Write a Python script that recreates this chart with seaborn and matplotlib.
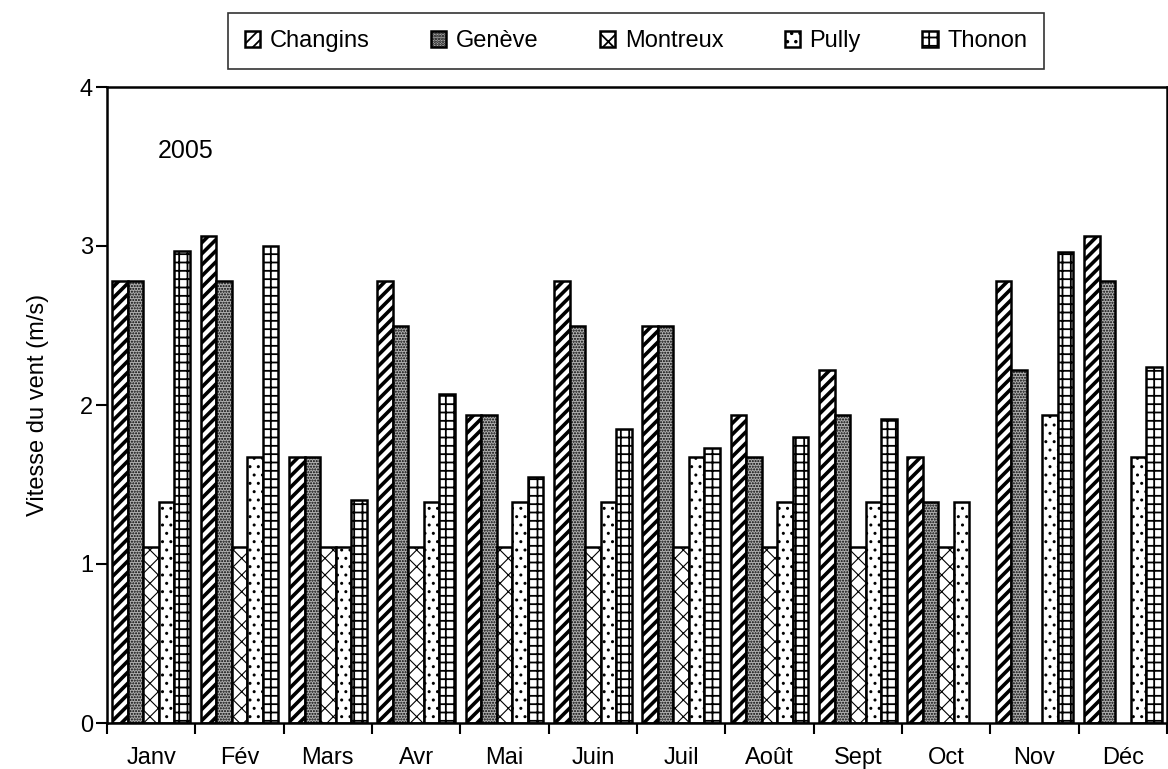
import numpy as np
import pandas as pd
import matplotlib
matplotlib.use("Agg")
import matplotlib.pyplot as plt
import seaborn as sns

mois = ["Janv", "Fév", "Mars", "Avr", "Mai", "Juin", "Juil", "Août", "Sept", "Oct", "Nov", "Déc"]
stations = ["Changins", "Genève", "Montreux", "Pully", "Thonon"]

changins = [2.78, 3.06, 1.67, 2.78, 1.94, 2.78, 2.50, 1.94, 2.22, 1.67, 2.78, 3.06]
geneve = [2.78, 2.78, 1.67, 2.50, 1.94, 2.50, 2.50, 1.67, 1.94, 1.39, 2.22, 2.78]
montreux = [1.11, 1.11, 1.11, 1.11, 1.11, 1.11, 1.11, 1.11, 1.11, 1.11, np.nan, np.nan]
pully = [1.39, 1.67, 1.11, 1.39, 1.39, 1.39, 1.67, 1.39, 1.39, 1.39, 1.94, 1.67]
thonon = [2.97, 3.00, 1.40, 2.07, 1.55, 1.85, 1.73, 1.80, 1.91, np.nan, 2.96, 2.24]

series = [changins, geneve, montreux, pully, thonon]
df = pd.DataFrame({
    "mois": mois * len(stations),
    "station": [s for s in stations for _ in mois],
    "vitesse": [v for vals in series for v in vals],
})

sns.set_theme(style="white")
plt.rcParams["font.family"] = "Liberation Sans"
plt.rcParams["text.color"] = "black"
plt.rcParams["hatch.linewidth"] = 1.3
plt.rcParams["hatch.color"] = "black"

fig = plt.figure(figsize=(11.68, 7.69), dpi=100)
ax = fig.add_axes([107 / 1168, 1 - 723 / 769, (1167 - 107) / 1168, (723 - 87) / 769])

sns.barplot(data=df, x="mois", y="vitesse", hue="station", order=mois, hue_order=stations,
            palette=["white"] * 5, edgecolor="black", linewidth=1.8, width=0.88,
            saturation=1, legend=False, ax=ax)

# motifs de remplissage (style Excel noir et blanc)
fills = ["white", "#b0b0b0", "white", "white", "white"]
hatches = ["///", "......", "xx", "..", "++"]
hatch_lw = [2.6, 1.0, 0.8, 1.0, 1.3]
for cont, fc, h, hl in zip(ax.containers, fills, hatches, hatch_lw):
    for p in cont.patches:
        p.set_facecolor(fc)
        p.set_hatch(h)
        p.set_edgecolor("black")
        if hasattr(p, "set_hatch_linewidth"):
            p.set_hatch_linewidth(hl)

ax.set_ylim(0, 4)
ax.set_xlim(-0.5, len(mois) - 0.5)
ax.set_yticks([0, 1, 2, 3, 4])
ax.set_ylabel("Vitesse du vent (m/s)", fontsize=17, labelpad=22, color="black")
ax.set_xlabel("")

# ticks entre les groupes, étiquettes au centre
ax.set_xticks(np.arange(-0.5, len(mois), 1.0))
ax.set_xticklabels([])
ax.set_xticks(np.arange(len(mois)), minor=True)
ax.set_xticklabels(mois, minor=True, fontsize=17)
ax.tick_params(axis="x", which="major", bottom=True, direction="out", length=8, width=1.5, color="black")
ax.tick_params(axis="x", which="minor", bottom=False, length=0, pad=17, labelcolor="black")
ax.tick_params(axis="y", left=True, direction="out", length=8, width=1.5, color="black",
               labelsize=17, labelcolor="black", pad=2)

for s in ax.spines.values():
    s.set_visible(True)
    s.set_color("black")
    s.set_linewidth(1.8)

ax.text(0.048, 0.90, "2005", transform=ax.transAxes, fontsize=18, va="center", ha="left", color="black")

leg = fig.legend(ax.containers, stations, loc="center", bbox_to_anchor=(636 / 1168, 1 - 41 / 769),
                 ncol=5, fontsize=17, frameon=True, fancybox=False, edgecolor="black",
                 handlelength=0.65, handleheight=0.65, handletextpad=0.4, columnspacing=2.6,
                 borderpad=0.7, borderaxespad=0)
leg.get_frame().set_linewidth(1.2)
for t in leg.get_texts():
    t.set_color("black")

plt.savefig("out.png", dpi=100)
plt.close()
